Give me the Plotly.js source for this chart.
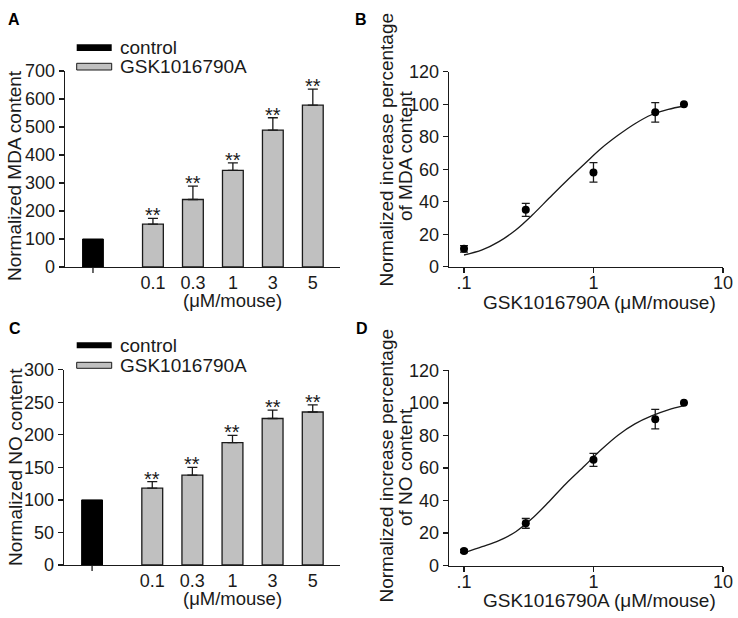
<!DOCTYPE html>
<html><head><meta charset="utf-8">
<script src="https://cdn.plot.ly/plotly-3.0.1.min.js"></script>
<style>html,body{margin:0;padding:0;background:#fff}#chart{width:738px;height:618px}</style>
</head><body><div id="chart"></div>
<script>
// ---- data ----
const seriesNames = ['control', 'GSK1016790A'];
const doseLabels = ['0.1', '0.3', '1', '3', '5'];
const doses = [0.1, 0.3, 1, 3, 5];
const logTickVals = [0.1, 1, 10];
const logTickText = ['.1', '1', '10'];

const mdaControl = 100;
const mdaMean = [153, 241, 345, 489, 578];
const mdaErr = [21, 48, 27, 44, 57];

const noControl = 100;
const noMean = [118, 138, 188, 225, 235];
const noErr = [10, 12, 11, 13, 11];

const mdaPct = [11, 35, 58, 95, 100];
const mdaPctErr = [2, 4, 6, 6, 0];
const noPct = [9, 26, 65, 90, 100];
const noPctErr = [1, 3, 4, 6, 0];

const fitX = [0.1, 0.138, 0.186, 0.251, 0.337, 0.453, 0.61, 0.859, 1.156, 1.556, 2.09, 2.81, 3.78, 5];
const mdaFit = [7.2, 10.3, 15.4, 22.6, 31.8, 42.1, 52.3, 63.5, 73, 81, 88, 93.5, 96.8, 98.9];
const noFit = [8, 11.7, 15.4, 20.9, 29.1, 39.3, 50.2, 61.5, 71.5, 80.3, 87.1, 92, 95.7, 98.3];

const titleA = 'Normalized MDA content';
const titleC = 'Normalized NO content';
const titleBD1 = 'Normalized increase percentage';
const titleB2 = 'of MDA content';
const titleD2 = 'of NO content';
const unitLabel = '(μM/mouse)';
const xTitleLog = 'GSK1016790A (μM/mouse)';
const panelLetters = ['A', 'B', 'C', 'D'];

// ---- styling ----
const F = 'Liberation Sans, Arial, Helvetica, sans-serif';
const ink = '#1a1a1a';
const grayFill = '#c0c0c0';
const W = 738, H = 618;
const px = v => v / W;
const py = v => 1 - v / H;

const barPos = doses.map((d, i) => i + 1.5);
const zeros = doses.map(() => 0);

function barTraces(ctrl, mean, err, xa, ya) {
  return [
    {type: 'bar', x: [0], y: [ctrl], width: 0.52, xaxis: xa, yaxis: ya, name: seriesNames[0],
     marker: {color: '#000', line: {color: '#000', width: 1}}, showlegend: false, hoverinfo: 'skip'},
    {type: 'bar', x: barPos, y: mean, width: 0.52, xaxis: xa, yaxis: ya, name: seriesNames[1],
     marker: {color: grayFill, line: {color: ink, width: 1.3}}, showlegend: false, hoverinfo: 'skip',
     error_y: {type: 'data', symmetric: false, array: err, arrayminus: zeros, color: ink, thickness: 1.3, width: 5}}
  ];
}
function doseTraces(y, err, fit, xa, ya) {
  return [
    {type: 'scatter', mode: 'lines', x: fitX, y: fit, xaxis: xa, yaxis: ya,
     line: {color: ink, width: 1.3, shape: 'spline'}, showlegend: false, hoverinfo: 'skip'},
    {type: 'scatter', mode: 'markers', x: doses, y: y, xaxis: xa, yaxis: ya,
     marker: {color: '#000', size: 8}, showlegend: false, hoverinfo: 'skip',
     error_y: {type: 'data', array: err, color: ink, thickness: 1.3, width: 4}}
  ];
}

const data = [
  ...barTraces(mdaControl, mdaMean, mdaErr, 'x', 'y'),
  ...doseTraces(mdaPct, mdaPctErr, mdaFit, 'x2', 'y2'),
  ...barTraces(noControl, noMean, noErr, 'x3', 'y3'),
  ...doseTraces(noPct, noPctErr, noFit, 'x4', 'y4')
];

const axBase = {showgrid: false, zeroline: false, showline: true, linecolor: ink, linewidth: 1.3,
  ticks: 'outside', ticklen: 5, tickwidth: 1.3, tickcolor: ink,
  tickfont: {family: F, size: 18, color: ink}, fixedrange: true};

const domA = {x: [px(65), px(340)], y: [py(267), py(71)]};
const domB = {x: [px(449), px(723)], y: [py(266.7), py(71.7)]};
const domC = {x: [px(64), px(340)], y: [py(565), py(369.7)]};
const domD = {x: [px(449), px(723)], y: [py(565.7), py(370.3)]};

function barX(dom, ya) {
  return Object.assign({}, axBase, {domain: dom.x, anchor: ya, range: [-0.7, 6.18],
    tickvals: barPos, ticktext: doseLabels, ticks: '', ticklabelstandoff: -1});
}
function logX(dom, ya) {
  return Object.assign({}, axBase, {domain: dom.x, anchor: ya, type: 'log', range: [-1.116, 1.0005],
    tickvals: logTickVals, ticktext: logTickText, ticklabelstandoff: -6});
}
function linY(dom, xa, max, dt) {
  return Object.assign({}, axBase, {domain: dom.y, anchor: xa, range: [0, max], dtick: dt, tick0: 0});
}

const ann = [];
function txt(text, x, y, opts) {
  ann.push(Object.assign({text: text, x: x, y: y, xref: 'paper', yref: 'paper', showarrow: false,
    xanchor: 'center', yanchor: 'middle', font: {family: F, size: 19, color: ink}}, opts || {}));
}
// panel letters
const letterFont = {family: F, size: 16, color: '#000'};
txt('<b>' + panelLetters[0] + '</b>', px(14), py(19), {font: letterFont});
txt('<b>' + panelLetters[1] + '</b>', px(361), py(19), {font: letterFont});
txt('<b>' + panelLetters[2] + '</b>', px(15), py(329), {font: letterFont});
txt('<b>' + panelLetters[3] + '</b>', px(362), py(329), {font: letterFont});
// y titles
txt(titleA, px(15), py(176), {textangle: -90});
txt(titleC, px(15), py(467), {textangle: -90});
txt(titleBD1, px(385.5), py(150), {textangle: -90});
txt(titleB2, px(405), py(156), {textangle: -90});
txt(titleBD1, px(385.5), py(466), {textangle: -90});
txt(titleD2, px(405), py(467), {textangle: -90});
// x titles
txt(unitLabel, 3.5, py(301), {xref: 'x', font: {family: F, size: 18.5, color: ink}});
txt(unitLabel, 3.5, py(598.5), {xref: 'x3', font: {family: F, size: 18.5, color: ink}});
txt(xTitleLog, px(599), py(302));
txt(xTitleLog, px(599), py(600));
// legends text
txt(seriesNames[0], px(118), py(47), {xanchor: 'left'});
txt(seriesNames[1], px(118), py(66.5), {xanchor: 'left'});
txt(seriesNames[0], px(118), py(345.5), {xanchor: 'left'});
txt(seriesNames[1], px(118), py(365.5), {xanchor: 'left'});
// significance stars
function stars(mean, err, xa, ya) {
  mean.forEach((m, i) => ann.push({text: '**', x: barPos[i], y: m + err[i], xref: xa, yref: ya,
    showarrow: false, xanchor: 'center', yanchor: 'bottom', yshift: -10,
    font: {family: F, size: 20, color: ink}}));
}
stars(mdaMean, mdaErr, 'x', 'y');
stars(noMean, noErr, 'x3', 'y3');

const shapes = [
  // legend swatches A
  {type: 'rect', xref: 'paper', yref: 'paper', x0: px(76.7), x1: px(111.7), y0: py(51), y1: py(44.3), fillcolor: '#000', line: {width: 0}},
  {type: 'rect', xref: 'paper', yref: 'paper', x0: px(76.7), x1: px(111.7), y0: py(70), y1: py(63.3), fillcolor: grayFill, line: {color: ink, width: 1}},
  // legend swatches C
  {type: 'rect', xref: 'paper', yref: 'paper', x0: px(76.7), x1: px(111.7), y0: py(348.3), y1: py(342.3), fillcolor: '#000', line: {width: 0}},
  {type: 'rect', xref: 'paper', yref: 'paper', x0: px(76.7), x1: px(111.7), y0: py(368.3), y1: py(362.3), fillcolor: grayFill, line: {color: ink, width: 1}},
  // control tick marks
  {type: 'line', xref: 'x', yref: 'paper', x0: 0, x1: 0, y0: domA.y[0], y1: domA.y[0] - 6 / H, line: {color: ink, width: 1.3}},
  {type: 'line', xref: 'x3', yref: 'paper', x0: 0, x1: 0, y0: domC.y[0], y1: domC.y[0] - 6 / H, line: {color: ink, width: 1.3}}
];

const layout = {
  width: W, height: H, margin: {l: 0, r: 0, t: 0, b: 0},
  paper_bgcolor: '#fff', plot_bgcolor: '#fff', showlegend: false,
  font: {family: F, size: 18, color: ink},
  xaxis: barX(domA, 'y'), yaxis: linY(domA, 'x', 700, 100),
  xaxis2: logX(domB, 'y2'), yaxis2: linY(domB, 'x2', 120, 20),
  xaxis3: barX(domC, 'y3'), yaxis3: linY(domC, 'x3', 300, 50),
  xaxis4: logX(domD, 'y4'), yaxis4: linY(domD, 'x4', 120, 20),
  annotations: ann, shapes: shapes, bargap: 0
};

Plotly.newPlot('chart', data, layout, {staticPlot: true, displayModeBar: false});
</script>
</body></html>
